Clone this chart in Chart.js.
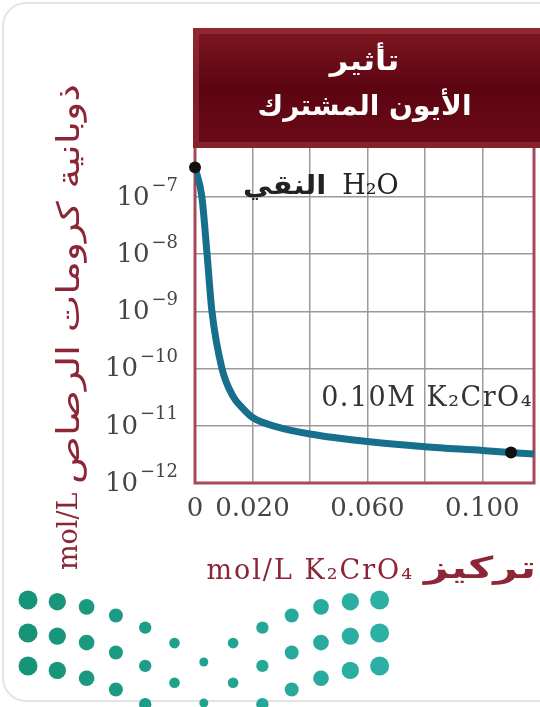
<!DOCTYPE html>
<html lang="ar">
<head>
  <meta charset="UTF-8">
  <title>تأثير الأيون المشترك</title>
  <script src="https://cdn.jsdelivr.net/npm/chart.js"></script>
  <style>
    body {
      margin: 0;
      background: #fff;
      width: 540px;
      height: 707px;
      overflow: hidden;
      position: relative;
    }

    .card {
      position: absolute;
      left: 2px;
      top: 2px;
      width: 600px;
      height: 700px;
      border: 2px solid #e4e4e4;
      border-radius: 24px;
      box-sizing: border-box;
    }

    canvas {
      position: absolute;
      left: 0;
      top: 0;
    }
  </style>
</head>
<body>

  <div class="card"></div>
  <canvas id="chromateChart" width="540" height="707"></canvas>

  <script>
    // K2CrO4 concentration (mol/L) and PbCrO4 solubility (mol/L)
    const concentration = [0, 0.0024, 0.0042, 0.0059, 0.0094, 0.0132, 0.0167, 0.0202, 0.0285, 0.040, 0.060, 0.080, 0.100, 0.118];
    const solubility = [3.3e-7, 1.0e-7, 1.0e-8, 1.0e-9, 1.0e-10, 3.3e-11, 2.0e-11, 1.38e-11, 9.6e-12, 7.2e-12, 5.3e-12, 4.3e-12, 3.7e-12, 3.2e-12];

    // the two marked points (pure water, 0.10M K2CrO4)
    const markedConcentration = [0, 0.11];
    const markedSolubility = [3.3e-7, 3.4e-12];

    const yPowers = [-12, -11, -10, -9, -8, -7];
    const xGridValues = [0, 0.02, 0.04, 0.06, 0.08, 0.10];
    const xLabelValues = [0, 0.02, 0.06, 0.10];
    const xLabelTexts = ['0', '0.020', '0.060', '0.100'];

    const headerLines = ['تأثير', 'الأيون المشترك'];
    const yTitleLatin = 'mol/L';
    const yTitleArabic = 'ذوبانية كرومات الرصاص';
    const xTitleLatin = 'mol/L K₂CrO₄';
    const xTitleArabic = 'تركيز';

    const noteWaterLatin = 'H₂O';
    const noteWaterArabic = 'النقي';
    const noteWaterAt = [0.0167, 1.5e-7];
    const noteChromate = '0.10M K₂CrO₄';
    const noteChromateAt = [0.118, 3.0e-11];

    const maroon = '#8c2536';
    const serif = '"DejaVu Serif", serif';
    const sans = '"DejaVu Sans", sans-serif';

    // draws text squeezed or stretched horizontally, returns drawn width
    function stretchText(ctx, text, x, y, sx, align) {
      const w = ctx.measureText(text).width * sx;
      const left = align === 'right' ? x - w : align === 'center' ? x - w / 2 : x;
      ctx.save();
      ctx.translate(left, y);
      ctx.scale(sx, 1);
      ctx.textAlign = 'left';
      ctx.fillText(text, 0, 0);
      ctx.restore();
      return w;
    }

    const decor = {
      id: 'decor',
      beforeDatasetsDraw(chart) {
        const { ctx, chartArea: a } = chart;
        ctx.save();
        ctx.strokeStyle = '#a8495a';
        ctx.lineWidth = 3;
        ctx.beginPath();
        ctx.moveTo(a.left, a.top);
        ctx.lineTo(a.left, a.bottom);
        ctx.lineTo(a.right, a.bottom);
        ctx.lineTo(a.right, a.top);
        ctx.stroke();
        ctx.restore();
      },
      afterDraw(chart) {
        const { ctx, chartArea: a } = chart;
        const xs = chart.scales.x, ys = chart.scales.y;
        ctx.save();

        // header box
        const top = 28;
        const g = ctx.createLinearGradient(0, top, 0, a.top);
        g.addColorStop(0, '#7d1822');
        g.addColorStop(0.5, '#5c0410');
        g.addColorStop(1, '#6b0b17');
        ctx.fillStyle = g;
        ctx.fillRect(a.left - 2, top, chart.width - a.left + 2, a.top - top);
        ctx.strokeStyle = 'rgba(170, 60, 70, 0.45)';
        ctx.lineWidth = 6;
        ctx.strokeRect(a.left + 1, top + 3, chart.width - a.left + 2, a.top - top - 6);
        ctx.fillStyle = '#fff';
        ctx.font = 'bold 28px ' + sans;
        ctx.textBaseline = 'middle';
        const cx = (a.left + a.right) / 2;
        stretchText(ctx, headerLines[0], cx, top + 35, 1.15, 'center');
        stretchText(ctx, headerLines[1], cx, top + 80, 1.0, 'center');

        // y tick labels 10^n
        ctx.fillStyle = '#454545';
        ctx.textAlign = 'right';
        yPowers.forEach(p => {
          const y = ys.getPixelForValue(Math.pow(10, p));
          const right = a.left - 17;
          const exp = '−' + Math.abs(p);
          ctx.font = '18px ' + serif;
          ctx.fillText(exp, right, y - 11);
          const ew = ctx.measureText(exp).width;
          ctx.font = '26px ' + serif;
          ctx.fillText('10', right - ew - 2, y + 1);
        });

        // notes on the curve
        ctx.fillStyle = '#222';
        const nx = xs.getPixelForValue(noteWaterAt[0]);
        const ny = ys.getPixelForValue(noteWaterAt[1]);
        ctx.font = 'bold 26px ' + sans;
        const aw = stretchText(ctx, noteWaterArabic, nx, ny, 1.12, 'left');
        ctx.font = '27px ' + serif;
        ctx.textAlign = 'left';
        ctx.fillText(noteWaterLatin, nx + aw + 16, ny);

        ctx.fillStyle = '#333';
        ctx.textAlign = 'right';
        ctx.letterSpacing = '1.5px';
        ctx.fillText(noteChromate, xs.getPixelForValue(noteChromateAt[0]) - 1, ys.getPixelForValue(noteChromateAt[1]));
        ctx.letterSpacing = '0px';

        // y axis title, reads bottom to top
        ctx.fillStyle = maroon;
        ctx.save();
        ctx.translate(77, 570);
        ctx.rotate(-Math.PI / 2);
        ctx.textBaseline = 'alphabetic';
        ctx.textAlign = 'left';
        ctx.font = '27px ' + serif;
        ctx.fillText(yTitleLatin, 0, 0);
        ctx.font = '31px ' + sans;
        const yw = ctx.measureText(yTitleArabic).width;
        stretchText(ctx, yTitleArabic, 86, 2, 400 / yw, 'left');
        ctx.restore();

        // x axis title
        ctx.textBaseline = 'middle';
        ctx.font = 'bold 30px ' + sans;
        const xw = ctx.measureText(xTitleArabic).width;
        stretchText(ctx, xTitleArabic, a.right + 2, 570, 112 / xw, 'right');
        ctx.font = '27px ' + serif;
        ctx.textAlign = 'right';
        ctx.letterSpacing = '2px';
        ctx.fillText(xTitleLatin, a.right + 2 - 112 - 10, 572);
        ctx.letterSpacing = '0px';

        // ministry dots watermark
        for (let i = 0; i <= 12; i++) {
          const d = Math.abs(i - 6) / 6;
          const dotX = 28 + i * 29.3;
          const base = 600 + 62 * Math.pow(1 - d, 2);
          const step = 33 + 8 * (1 - d);
          const r = 4.5 + 5 * d;
          const t = i / 12;
          ctx.fillStyle = `rgb(${Math.round(22 + 22 * t)}, ${Math.round(148 + 28 * t)}, ${Math.round(120 + 46 * t)})`;
          for (let k = 0; k < 3; k++) {
            ctx.beginPath();
            ctx.arc(dotX, base + k * step, r, 0, Math.PI * 2);
            ctx.fill();
          }
        }
        ctx.restore();
      }
    };

    const ctx = document.getElementById('chromateChart').getContext('2d');

    new Chart(ctx, {
      type: 'line',
      data: {
        datasets: [
          {
            data: markedConcentration.map((x, i) => ({ x, y: markedSolubility[i] })),
            showLine: false,
            pointRadius: 6,
            pointBackgroundColor: '#111',
            pointBorderWidth: 0,
            clip: false,
            order: 1
          },
          {
            data: concentration.map((x, i) => ({ x, y: solubility[i] })),
            borderColor: '#176f8e',
            borderWidth: 7,
            pointRadius: 0,
            cubicInterpolationMode: 'monotone',
            fill: false,
            order: 2
          }
        ]
      },
      options: {
        responsive: false,
        animation: false,
        events: [],
        layout: { padding: { top: 148, right: 5, left: 0, bottom: 0 } },
        plugins: {
          legend: { display: false },
          tooltip: { enabled: false }
        },
        scales: {
          x: {
            type: 'linear',
            min: 0,
            max: 0.118,
            afterBuildTicks: s => { s.ticks = xGridValues.map(v => ({ value: v })); },
            afterFit: s => { s.height = 224; },
            border: { display: false },
            grid: { color: '#9a9a9a', lineWidth: 1.5, drawTicks: false },
            ticks: {
              autoSkip: false,
              maxRotation: 0,
              padding: 11,
              color: '#454545',
              font: { family: 'DejaVu Serif', size: 26 },
              callback: v => {
                const i = xLabelValues.findIndex(l => Math.abs(l - v) < 1e-6);
                return i < 0 ? '' : xLabelTexts[i];
              }
            }
          },
          y: {
            type: 'logarithmic',
            min: 1e-12,
            max: 7.2e-7,
            afterBuildTicks: s => { s.ticks = yPowers.map(p => ({ value: Math.pow(10, p) })); },
            afterFit: s => { s.width = 195; },
            border: { display: false },
            grid: { color: '#9a9a9a', lineWidth: 1.5, drawTicks: false },
            ticks: { display: false }
          }
        }
      },
      plugins: [decor]
    });
  </script>
</body>
</html>
